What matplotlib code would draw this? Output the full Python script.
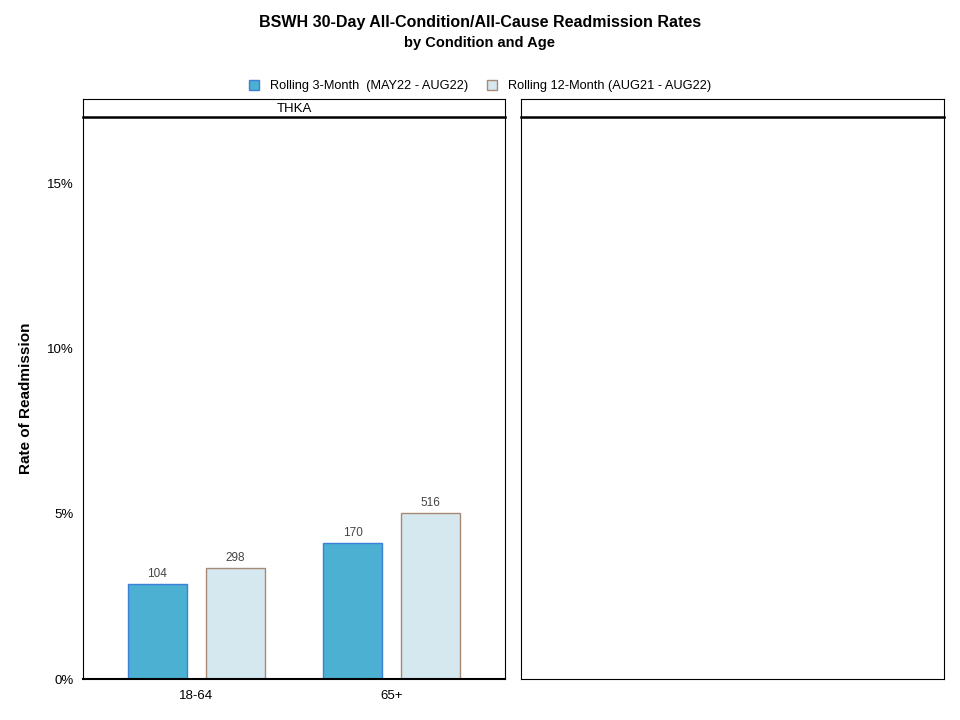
import numpy as np
import matplotlib.pyplot as plt

plt.rcParams['font.family'] = ['Liberation Sans', 'DejaVu Sans']

ages = ['18-64', '65+']
rate_3m = [2.87, 4.11]
rate_12m = [3.36, 5.02]
n_3m = [104, 170]
n_12m = [298, 516]
labels = ['Rolling 3-Month  (MAY22 - AUG22)', 'Rolling 12-Month (AUG21 - AUG22)']
panels = ['THKA', '']

W, H = 960, 720
fig = plt.figure(figsize=(9.6, 7.2), dpi=100)

def box(x0, y0, x1, y1):
    return [x0 / W, 1 - y1 / H, (x1 - x0) / W, (y1 - y0) / H]

ax1 = fig.add_axes(box(83, 117, 505, 679))
ax2 = fig.add_axes(box(521, 117, 944, 679))

x = np.arange(1, len(ages) + 1)
w = 0.30
b1 = ax1.bar(x - 0.2, rate_3m, w, color='#4bb0d1', edgecolor='#3d7fd9', linewidth=1, label=labels[0])
b2 = ax1.bar(x + 0.2, rate_12m, w, color='#d5e8ef', edgecolor='#a88a74', linewidth=1, label=labels[1])
for bars, ns in [(b1, n_3m), (b2, n_12m)]:
    for bar, n in zip(bars, ns):
        ax1.annotate(str(n), (bar.get_x() + bar.get_width() / 2, bar.get_height()),
                     xytext=(0, 3), textcoords='offset points', ha='center', va='bottom',
                     fontsize=8.5, color='#444444')

for ax in (ax1, ax2):
    ax.set_xlim(0.42, 2.58)
    ax.set_ylim(0, 17)
    for s in ax.spines.values():
        s.set_linewidth(0.8)
        s.set_color('black')
    ax.tick_params(length=0)

ax1.set_xticks(x)
ax1.set_xticklabels(ages, fontsize=9.5)
ax1.set_yticks([0, 5, 10, 15])
ax1.set_yticklabels(['0%', '5%', '10%', '15%'], fontsize=9.5)
ax1.tick_params(axis='x', pad=8)
ax1.tick_params(axis='y', pad=7)
ax1.spines['bottom'].set_linewidth(1.5)
ax1.set_ylabel('Rate of Readmission', fontsize=11, fontweight='bold')
ax1.yaxis.set_label_coords((33 - 83) / 422, 0.5)
ax2.set_xticks([])
ax2.set_yticks([])

# facet strips
for (x0, x1), name in zip([(83, 505), (521, 944)], panels):
    sax = fig.add_axes(box(x0, 99, x1, 117))
    sax.set_xticks([])
    sax.set_yticks([])
    for s in sax.spines.values():
        s.set_linewidth(0.8)
    sax.spines['bottom'].set_linewidth(1.8)
    sax.text(0.5, 0.42, name, ha='center', va='center', fontsize=9.5)

fig.text(0.5, 1 - 23 / H, 'BSWH 30-Day All-Condition/All-Cause Readmission Rates',
         ha='center', va='center', fontsize=11.5, fontweight='bold')
fig.text(0.5, 1 - 43 / H, 'by Condition and Age', ha='center', va='center',
         fontsize=10.5, fontweight='bold')

fig.legend(handles=[b1, b2], labels=labels, loc='center', bbox_to_anchor=(0.5, 1 - 86 / H),
           ncol=2, frameon=False, fontsize=9.2, handlelength=0.8, handleheight=0.8,
           columnspacing=1.5, handletextpad=0.8)

fig.savefig('out.png', dpi=100)
